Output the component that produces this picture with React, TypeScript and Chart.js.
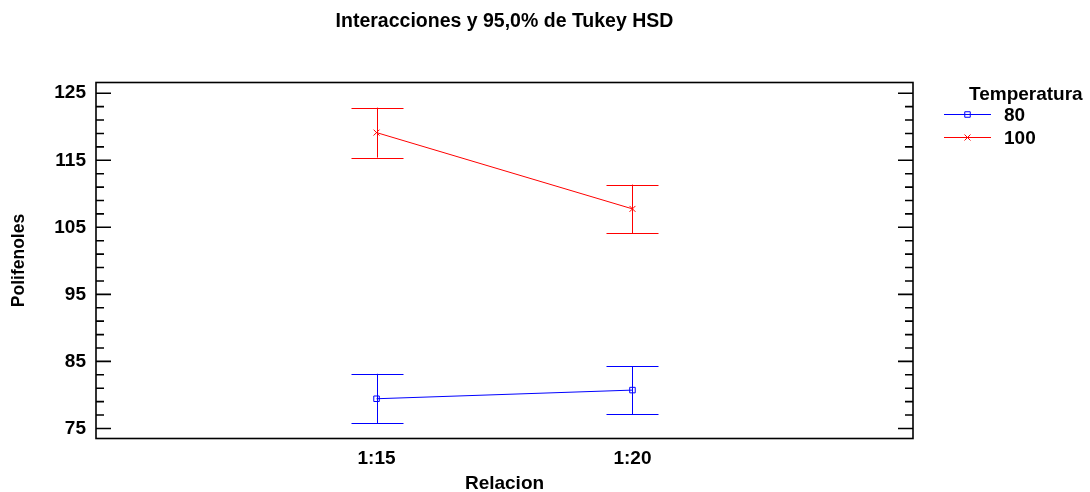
import React, { useEffect, useRef } from "react";
import { Chart, registerables } from "chart.js";

Chart.register(...registerables);

const chartTitle = "Interacciones y 95,0% de Tukey HSD";
const xTitle = "Relacion";
const yTitle = "Polifenoles";
const legendTitle = "Temperatura";

const categories = ["1:15", "1:20"];
const categoryPositions = [1, 2];

const seriesNames = ["80", "100"];
const seriesColors = ["#0000FF", "#FF0000"];
const seriesMarkers = ["rect", "crossRot"];

const means80 = [79.43, 80.72];
const lower80 = [75.8, 77.09];
const upper80 = [83.15, 84.24];

const means100 = [119.13, 107.75];
const lower100 = [115.4, 104.13];
const upper100 = [122.85, 111.37];

const yMajorTicks = [75, 85, 95, 105, 115, 125];
const yMinorTicks = [77, 79, 81, 83, 87, 89, 91, 93, 97, 99, 101, 103, 107, 109, 111, 113, 117, 119, 121, 123];

const FONT = "'Liberation Sans', Arial, Helvetica, sans-serif";

const seriesMeans = [means80, means100];
const seriesLower = [lower80, lower100];
const seriesUpper = [upper80, upper100];

function drawMarker(ctx: CanvasRenderingContext2D, style: string, x: number, y: number, color: string) {
  ctx.save();
  ctx.strokeStyle = color;
  ctx.lineWidth = 1;
  ctx.beginPath();
  if (style === "rect") {
    ctx.rect(x - 2.75, y - 2.75, 5.5, 5.5);
  } else {
    const o = 3;
    ctx.moveTo(x - o, y - o);
    ctx.lineTo(x + o, y + o);
    ctx.moveTo(x + o, y - o);
    ctx.lineTo(x - o, y + o);
  }
  ctx.stroke();
  ctx.restore();
}

const errorBarPlugin = {
  id: "errorBars",
  beforeDatasetsDraw(chart: any) {
    const ctx = chart.ctx as CanvasRenderingContext2D;
    const xs = chart.scales.x;
    const ys = chart.scales.y;
    ctx.save();
    ctx.lineWidth = 1;
    seriesNames.forEach((_, si) => {
      ctx.strokeStyle = seriesColors[si];
      categoryPositions.forEach((pos, ci) => {
        const px = Math.round(xs.getPixelForValue(pos)) + 0.5;
        const lo = ys.getPixelForValue(seriesLower[si][ci]);
        const hi = ys.getPixelForValue(seriesUpper[si][ci]);
        ctx.beginPath();
        ctx.moveTo(px, lo);
        ctx.lineTo(px, hi);
        ctx.moveTo(px - 26, Math.round(lo) + 0.5);
        ctx.lineTo(px + 26, Math.round(lo) + 0.5);
        ctx.moveTo(px - 26, Math.round(hi) + 0.5);
        ctx.lineTo(px + 26, Math.round(hi) + 0.5);
        ctx.stroke();
      });
    });
    ctx.restore();
  },
};

const framePlugin = {
  id: "frameTicks",
  afterDraw(chart: any) {
    const ctx = chart.ctx as CanvasRenderingContext2D;
    const { left, right, top, bottom } = chart.chartArea;
    const ys = chart.scales.y;
    ctx.save();
    ctx.strokeStyle = "#000";
    ctx.lineWidth = 1.6;
    ctx.strokeRect(left, top, right - left, bottom - top);
    ctx.beginPath();
    yMajorTicks.forEach((v) => {
      const py = ys.getPixelForValue(v);
      ctx.moveTo(left, py);
      ctx.lineTo(left + 15, py);
      ctx.moveTo(right, py);
      ctx.lineTo(right - 15, py);
    });
    yMinorTicks.forEach((v) => {
      const py = ys.getPixelForValue(v);
      ctx.moveTo(left, py);
      ctx.lineTo(left + 8, py);
      ctx.moveTo(right, py);
      ctx.lineTo(right - 8, py);
    });
    ctx.stroke();
    ctx.restore();
  },
};

const legendPlugin = {
  id: "customLegend",
  afterDraw(chart: any) {
    const ctx = chart.ctx as CanvasRenderingContext2D;
    const right = chart.chartArea.right;
    ctx.save();
    ctx.fillStyle = "#000";
    ctx.font = `bold 19px ${FONT}`;
    ctx.textBaseline = "middle";
    ctx.textAlign = "left";
    ctx.fillText(legendTitle, right + 56, 94.5);
    seriesNames.forEach((name, i) => {
      const y = 114.5 + i * 23;
      ctx.strokeStyle = seriesColors[i];
      ctx.lineWidth = 1;
      ctx.beginPath();
      ctx.moveTo(right + 31, y);
      ctx.lineTo(right + 78, y);
      ctx.stroke();
      drawMarker(ctx, seriesMarkers[i], right + 54.5, y, seriesColors[i]);
      ctx.fillStyle = "#000";
      ctx.fillText(name, right + 91, y + 1);
    });
    ctx.restore();
  },
};

export default function App() {
  const canvasRef = useRef<HTMLCanvasElement | null>(null);

  useEffect(() => {
    document.body.style.margin = "0";
    const canvas = canvasRef.current;
    if (!canvas) return;
    const font = { family: FONT, size: 19, weight: "bold" as const };
    const chart = new Chart(canvas, {
      type: "line",
      data: {
        datasets: seriesNames.map((name, si) => ({
          label: name,
          data: categoryPositions.map((x, ci) => ({ x, y: seriesMeans[si][ci] })),
          borderColor: seriesColors[si],
          backgroundColor: "transparent",
          borderWidth: 1,
          pointStyle: seriesMarkers[si] as any,
          pointRadius: si === 0 ? 3.9 : 4.2,
          pointBorderWidth: 1,
          pointBorderColor: seriesColors[si],
          pointBackgroundColor: "transparent",
          tension: 0,
        })),
      },
      plugins: [errorBarPlugin, framePlugin, legendPlugin],
      options: {
        responsive: false,
        animation: false,
        events: [],
        layout: { padding: { left: 0, right: 177, top: 0, bottom: 0 } },
        plugins: {
          legend: { display: false },
          tooltip: { enabled: false },
          title: {
            display: true,
            text: chartTitle,
            fullSize: false,
            color: "#000",
            font: { ...font, size: 19.5, lineHeight: 1 },
            padding: { top: 12, bottom: 51 },
          },
        },
        scales: {
          x: {
            type: "linear",
            min: -0.096,
            max: 3.096,
            grid: { display: false, drawTicks: false },
            border: { display: false },
            afterBuildTicks: (s: any) => {
              s.ticks = categoryPositions.map((v) => ({ value: v }));
            },
            afterFit: (s: any) => {
              s.height = 53.5;
            },
            ticks: {
              color: "#000",
              font,
              padding: 9,
              maxRotation: 0,
              autoSkip: false,
              callback: (v: any) => {
                const i = categoryPositions.indexOf(Number(v));
                return i >= 0 ? categories[i] : "";
              },
            },
            title: {
              display: true,
              text: xTitle,
              color: "#000",
              font: { ...font, lineHeight: 1 },
              padding: { top: 0, bottom: -1 },
            },
          },
          y: {
            type: "linear",
            min: 73.5,
            max: 126.6,
            grid: { display: false, drawTicks: false },
            border: { display: false },
            afterBuildTicks: (s: any) => {
              s.ticks = yMajorTicks.map((v) => ({ value: v }));
            },
            afterFit: (s: any) => {
              s.width = 96;
            },
            ticks: { color: "#000", font, padding: 10 },
            title: {
              display: true,
              text: yTitle,
              color: "#000",
              font: { ...font, size: 17.5, lineHeight: 1 },
              padding: { top: 10.25, bottom: 0 },
            },
          },
        },
      } as any,
    });
    return () => chart.destroy();
  }, []);

  return (
    <div style={{ width: 1090, height: 492, background: "#fff" }}>
      <canvas ref={canvasRef} width={1090} height={492} style={{ display: "block" }} />
    </div>
  );
}
